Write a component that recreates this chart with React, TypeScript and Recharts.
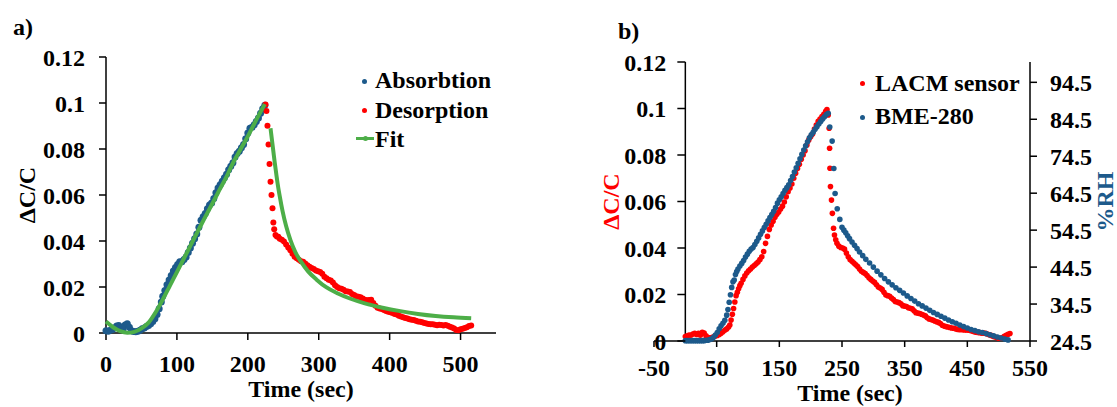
import React from "react";
import { ComposedChart, Scatter, Line, XAxis, YAxis, ReferenceLine, Label } from "recharts";

const FONT = "'Liberation Serif', 'Times New Roman', serif";
const FS = 24;
const BLUE = "#1d5a8b";
const RED = "#ff0000";
const GREEN = "#4dae48";

const timeTicksA = [0, 100, 200, 300, 400, 500];
const timeTicksB = [-50, 50, 150, 250, 350, 450, 550];
const dcTicks = [0, 0.02, 0.04, 0.06, 0.08, 0.1, 0.12];
const rhTicks = [24.5, 34.5, 44.5, 54.5, 64.5, 74.5, 84.5, 94.5];

// panel a) — [time, ΔC/C]
const absorbtion: [number, number][] = [
  [0, 0.001], [3, 0.0008], [6, 0.0012], [9, 0.0015], [12, 0.0022], [15, 0.003], [18, 0.0033],
  [21, 0.0022], [24, 0.0015], [27, 0.0035], [30, 0.004], [33, 0.0025], [36, 0.001], [39, 0.0006],
  [42, 0.0005], [45, 0.0008], [48, 0.0012], [51, 0.0018], [54, 0.0022], [57, 0.0028], [60, 0.0033],
  [63, 0.004], [66, 0.005], [69, 0.0062], [72, 0.008], [75, 0.0105], [78, 0.0135], [80, 0.016],
  [83, 0.0185], [86, 0.021], [89, 0.023], [92, 0.025], [95, 0.027], [98, 0.0285], [101, 0.0298],
  [104, 0.031], [107, 0.031], [110, 0.032], [113, 0.033], [116, 0.035], [119, 0.037], [122, 0.039],
  [125, 0.041], [128, 0.043], [131, 0.046], [134, 0.049], [137, 0.0505], [140, 0.052], [143, 0.054],
  [146, 0.0557], [149, 0.0565], [152, 0.0585], [155, 0.061], [158, 0.063], [161, 0.0645], [164, 0.066],
  [167, 0.0675], [170, 0.069], [173, 0.071], [176, 0.0725], [179, 0.074], [182, 0.0765], [185, 0.078],
  [188, 0.079], [191, 0.0805], [194, 0.082], [197, 0.0845], [200, 0.087], [203, 0.089], [206, 0.0895],
  [209, 0.0905], [212, 0.092], [215, 0.0935], [218, 0.0955], [221, 0.0975], [224, 0.099],
];

const desorption: [number, number][] = [
  [225, 0.0994], [226.3, 0.0965], [227.7, 0.0901], [229.2, 0.082], [230.6, 0.0735], [232, 0.0658],
  [233.4, 0.06], [234.8, 0.0542], [236, 0.048], [237.2, 0.0451], [239, 0.0426], [241, 0.042],
  [243, 0.0418], [245, 0.041], [248, 0.0405], [251, 0.0398], [254, 0.0385], [257, 0.0372], [260, 0.036],
  [263, 0.0345], [266, 0.0332], [269, 0.0325], [272, 0.0318], [275, 0.0312], [278, 0.031], [281, 0.0302],
  [284, 0.0295], [287, 0.0288], [290, 0.0283], [293, 0.0278], [296, 0.0272], [299, 0.0268], [302, 0.0265],
  [305, 0.0258], [308, 0.0245], [311, 0.0238], [314, 0.0232], [317, 0.0228], [320, 0.022], [323, 0.0208],
  [326, 0.02], [329, 0.0195], [332, 0.0192], [335, 0.0188], [338, 0.0182], [341, 0.018], [344, 0.0178],
  [347, 0.017], [350, 0.0165], [353, 0.016], [356, 0.0158], [359, 0.0155], [362, 0.015], [365, 0.0145],
  [368, 0.0142], [371, 0.0143], [374, 0.0145], [377, 0.013], [380, 0.0118], [383, 0.011], [386, 0.0107],
  [389, 0.0104], [392, 0.01], [395, 0.0096], [398, 0.0092], [401, 0.009], [404, 0.0087], [407, 0.0083],
  [410, 0.008], [413, 0.0075], [416, 0.0072], [419, 0.0068], [422, 0.0065], [425, 0.0063], [428, 0.006],
  [431, 0.0058], [434, 0.0056], [437, 0.0053], [440, 0.005], [443, 0.0049], [446, 0.0047], [449, 0.0044],
  [452, 0.0041], [455, 0.0039], [458, 0.0038], [461, 0.0038], [464, 0.0036], [467, 0.0034], [470, 0.0036],
  [473, 0.0035], [476, 0.0033], [479, 0.0035], [482, 0.0031], [485, 0.0027], [488, 0.0024], [491, 0.002],
  [494, 0.0013], [497, 0.0012], [500, 0.0016], [503, 0.0019], [506, 0.0022], [509, 0.0025], [512, 0.003],
  [515, 0.0033],
];

const fitRise: [number, number][] = [
  [0, 0.005], [10, 0.0025], [20, 0.0008], [30, 0.0001], [40, 0.0005], [50, 0.002], [60, 0.0045],
  [70, 0.009], [80, 0.0145], [90, 0.0205], [100, 0.0265], [110, 0.0325], [120, 0.0385], [130, 0.0445],
  [140, 0.0505], [150, 0.0563], [160, 0.0622], [170, 0.068], [180, 0.0745], [190, 0.08], [200, 0.0855],
  [210, 0.0915], [224, 0.0995],
];

const fitDecay: [number, number][] = [
  [232, 0.089], [234, 0.084], [236, 0.079], [238, 0.074], [240, 0.0695], [242, 0.065], [245, 0.0595],
  [249, 0.053], [254, 0.0465], [260, 0.0405], [267, 0.0352], [275, 0.031], [285, 0.0268], [297, 0.0232],
  [311, 0.0198], [327, 0.0172], [344, 0.015], [365, 0.0129], [390, 0.011], [415, 0.0095], [440, 0.0083],
  [465, 0.0074], [490, 0.0068], [515, 0.0064],
];

// panel b) — LACM sensor [time, ΔC/C], BME-280 [time, %RH]
const lacm: [number, number][] = [
  [0, 0.0019], [3, 0.0022], [6, 0.0026], [9, 0.0025], [12, 0.003], [15, 0.0033], [18, 0.0028],
  [21, 0.0033], [24, 0.0025], [27, 0.0037], [30, 0.0034], [33, 0.0022], [36, 0.0015], [39, 0.0014],
  [42, 0.0015], [45, 0.0018], [48, 0.0022], [51, 0.0024], [54, 0.0028], [57, 0.0033], [60, 0.004],
  [63, 0.0046], [66, 0.0052], [69, 0.006], [71, 0.0069], [73, 0.009], [75, 0.0115], [77, 0.014],
  [79, 0.0168], [81, 0.0195], [83, 0.021], [85, 0.0225], [87, 0.0238], [89, 0.0248], [92, 0.0265],
  [95, 0.028], [98, 0.0292], [101, 0.0302], [104, 0.031], [107, 0.0318], [110, 0.0325], [113, 0.0332],
  [116, 0.034], [119, 0.035], [122, 0.0362], [125, 0.0385], [128, 0.042], [131, 0.045], [134, 0.048],
  [137, 0.0499], [140, 0.0515], [143, 0.0532], [146, 0.0545], [149, 0.0555], [152, 0.0568], [155, 0.058],
  [158, 0.0598], [161, 0.062], [164, 0.0642], [167, 0.0658], [170, 0.0675], [173, 0.07], [176, 0.0722],
  [179, 0.0742], [182, 0.076], [185, 0.0782], [188, 0.08], [191, 0.0818], [194, 0.0843], [197, 0.0865],
  [200, 0.0878], [203, 0.089], [206, 0.0912], [209, 0.0929], [212, 0.0945], [215, 0.0955], [218, 0.0965],
  [221, 0.0975], [224, 0.0988], [226, 0.0995], [228, 0.0972], [229.5, 0.0915], [230.2, 0.0829],
  [230.8, 0.0743], [231.6, 0.0664], [233.2, 0.0606], [234.6, 0.0549], [236.5, 0.0485], [238, 0.0456],
  [240, 0.0435], [242, 0.042], [245, 0.0408], [248, 0.0402], [251, 0.04], [254, 0.0395], [257, 0.0378],
  [260, 0.0362], [263, 0.035], [266, 0.0343], [269, 0.0335], [272, 0.0328], [275, 0.032], [278, 0.031],
  [281, 0.03], [284, 0.0295], [287, 0.029], [290, 0.0282], [293, 0.0272], [296, 0.0265], [299, 0.0258],
  [302, 0.0252], [305, 0.0242], [308, 0.0232], [311, 0.0228], [314, 0.0222], [317, 0.021], [320, 0.0198],
  [323, 0.0195], [326, 0.0192], [329, 0.0185], [332, 0.0178], [335, 0.017], [338, 0.0168], [341, 0.0165],
  [344, 0.016], [347, 0.0152], [350, 0.015], [353, 0.0148], [356, 0.0143], [359, 0.0141], [362, 0.0138],
  [365, 0.013], [368, 0.0122], [371, 0.012], [374, 0.0118], [377, 0.0115], [380, 0.0112], [383, 0.0108],
  [386, 0.01], [389, 0.0095], [392, 0.0092], [395, 0.009], [398, 0.0086], [401, 0.0083], [404, 0.008],
  [407, 0.0075], [410, 0.0068], [413, 0.0064], [416, 0.0062], [419, 0.006], [422, 0.0058], [425, 0.0056],
  [428, 0.0055], [431, 0.0053], [434, 0.005], [437, 0.0049], [440, 0.0049], [443, 0.0048], [446, 0.0047],
  [449, 0.0047], [452, 0.0046], [455, 0.0045], [458, 0.0042], [461, 0.004], [464, 0.0038], [467, 0.0037],
  [470, 0.0036], [473, 0.0034], [476, 0.0034], [479, 0.0033], [482, 0.003], [485, 0.0027], [488, 0.0024],
  [491, 0.002], [494, 0.0017], [497, 0.0015], [500, 0.0012], [503, 0.0013], [506, 0.0015], [509, 0.002],
  [512, 0.0025], [515, 0.0029], [518, 0.0032],
];

const bme: [number, number][] = [
  [0, 24.6], [3, 24.6], [6, 24.6], [9, 24.6], [12, 24.6], [15, 24.6], [18, 24.6], [21, 24.6], [24, 24.6],
  [27, 24.6], [30, 24.6], [33, 24.7], [36, 24.7], [39, 24.9], [42, 25.1], [45, 25.5], [48, 26.1],
  [51, 26.8], [54, 27.8], [57, 28.6], [60, 29.3], [63, 30.1], [66, 31.5], [68, 33.0], [70, 35.0],
  [72, 37.0], [74, 39.0], [76, 40.5], [78, 41.0], [80, 42.5], [82, 43.3], [84, 44.0], [87, 44.8],
  [90, 45.5], [93, 46.3], [96, 47.2], [99, 48.0], [102, 48.8], [105, 49.4], [108, 49.8], [111, 50.6],
  [114, 51.5], [117, 52.4], [120, 53.4], [123, 54.3], [126, 55.2], [129, 56.1], [132, 57.0], [135, 57.9],
  [138, 58.7], [141, 59.6], [144, 60.6], [147, 61.8], [150, 62.7], [153, 63.5], [156, 64.4], [159, 65.3],
  [162, 66.0], [165, 66.8], [168, 67.9], [171, 69.0], [174, 70.2], [177, 71.4], [180, 72.6], [183, 73.8],
  [186, 75.0], [189, 76.2], [192, 77.3], [195, 78.4], [198, 79.5], [201, 80.3], [204, 81.0], [207, 81.8],
  [210, 82.5], [213, 83.2], [216, 83.9], [219, 84.6], [222, 85.2], [225, 85.8], [228, 86.1],
  [230.5, 82.4], [234.3, 78.6], [237, 71.2], [239, 64.4], [242.4, 60.3], [246.5, 57.4], [250, 55.3],
  [253, 54.5], [256, 53.8], [259, 53.0], [262, 52.2], [266, 51.3], [270, 50.4], [274, 49.5], [278, 48.6],
  [283, 47.6], [288, 46.6], [294, 45.6], [300, 44.5], [306, 43.4], [312, 42.4], [318, 41.4], [324, 40.5],
  [330, 39.7], [336, 38.9], [342, 38.2], [348, 37.5], [354, 36.7], [360, 36.0], [366, 35.3], [372, 34.6],
  [378, 34.0], [384, 33.4], [390, 32.8], [396, 32.2], [402, 31.7], [408, 31.2], [414, 30.7], [420, 30.2],
  [426, 29.7], [432, 29.3], [438, 28.8], [444, 28.4], [450, 28.0], [456, 27.6], [462, 27.3], [468, 27.0],
  [474, 26.8], [480, 26.5], [486, 26.2], [492, 25.9], [498, 25.6], [504, 25.3], [510, 25.0], [515, 24.8],
];

const rows = (pairs: [number, number][]) => pairs.map(([t, v]) => ({ t, v }));

const tickFont = { fontFamily: FONT, fontWeight: 700, fontSize: FS, fill: "#000" };

const dot = (fill: string, r: number) => (p: any) =>
  <circle cx={p.cx} cy={p.cy} r={r} fill={fill} />;

function SideTitle({ viewBox, value, shiftX, color }: any) {
  if (!viewBox) return null;
  const x = viewBox.x + shiftX;
  const y = viewBox.y + viewBox.height / 2;
  return (
    <text x={x} y={y} transform={`rotate(-90 ${x} ${y})`} textAnchor="middle" dominantBaseline="central"
      style={{ fontFamily: FONT, fontWeight: 700, fontSize: FS }} fill={color}>
      {value}
    </text>
  );
}

function BottomTitle({ viewBox, value, shiftX = 0, baseY }: any) {
  if (!viewBox) return null;
  return (
    <text x={viewBox.x + viewBox.width / 2 + shiftX} y={viewBox.y + baseY} textAnchor="middle"
      style={{ fontFamily: FONT, fontWeight: 700, fontSize: FS }} fill="#000">
      {value}
    </text>
  );
}

// panel b: plot spans 376px for -50..550, left axis sits at t = 0
const B_PLOT_W = 376;
const ZERO_SHIFT = (B_PLOT_W * 50) / 600;

function ZeroAxisTick({ x, y, payload }: any) {
  const ax = x + ZERO_SHIFT;
  return (
    <g>
      <line x1={ax - 8} x2={ax} y1={y} y2={y} stroke="#000" strokeWidth={1.5} />
      <text x={ax - 19} y={y} dy="0.355em" textAnchor="end" {...tickFont}>{payload.value}</text>
    </g>
  );
}

const legendText: React.CSSProperties = {
  position: "absolute", fontFamily: FONT, fontWeight: 700, fontSize: FS, lineHeight: "24px", whiteSpace: "nowrap",
};

function LegendDot({ x, y, color }: { x: number; y: number; color: string }) {
  return <div style={{ position: "absolute", left: x - 2.5, top: y - 2.5, width: 5, height: 5, borderRadius: 3, background: color }} />;
}

const marginA = { top: 57, right: 64, bottom: 10, left: 0 };

export default function App() {
  return (
    <div style={{ position: "absolute", left: 0, top: 0, width: 1117, height: 407, background: "#fff" }}>
      <div style={{ ...legendText, left: 13, top: 15 }}>a)</div>
      <div style={{ ...legendText, left: 618, top: 19 }}>b)</div>

      <div style={{ position: "absolute", left: 0, top: 0 }}>
        <ComposedChart width={560} height={407} margin={marginA}>
          <XAxis dataKey="t" type="number" domain={[0, 550]} ticks={timeTicksA} interval={0}
            stroke="#000" strokeWidth={1.5} tickSize={7} tickMargin={15} tick={tickFont} height={64}>
            <Label content={<BottomTitle baseY={64} />} value="Time (sec)" />
          </XAxis>
          <YAxis type="number" domain={[0, 0.12]} ticks={dcTicks} interval={0} width={106}
            stroke="#000" strokeWidth={1.5} tickSize={7} tickMargin={14} tick={tickFont}>
            <Label content={<SideTitle shiftX={27} color="#000" />} value="ΔC/C" />
          </YAxis>
          <Scatter data={rows(absorbtion)} dataKey="v" shape={dot(BLUE, 3.5)} isAnimationActive={false} />
          <Scatter data={rows(desorption)} dataKey="v" shape={dot(RED, 3)} isAnimationActive={false} />
        </ComposedChart>
      </div>

      {/* Fit curve: same axes in a transparent chart on top, so it sits above the dots */}
      <div style={{ position: "absolute", left: 0, top: 0, pointerEvents: "none" }}>
        <ComposedChart width={560} height={407} margin={marginA}>
          <XAxis dataKey="t" type="number" domain={[0, 550]} ticks={timeTicksA} height={64}
            axisLine={false} tickLine={false} tick={false} />
          <YAxis type="number" domain={[0, 0.12]} ticks={dcTicks} width={106}
            axisLine={false} tickLine={false} tick={false} />
          <Line data={rows(fitRise)} dataKey="v" type="monotone" stroke={GREEN} strokeWidth={4} dot={false} isAnimationActive={false} />
          <Line data={rows(fitDecay)} dataKey="v" type="monotone" stroke={GREEN} strokeWidth={4} dot={false} isAnimationActive={false} />
        </ComposedChart>
      </div>

      <LegendDot x={364} y={81} color={BLUE} />
      <LegendDot x={364} y={110} color={RED} />
      <div style={{ position: "absolute", left: 356, top: 137, width: 18, height: 3, background: GREEN }} />
      <LegendDot x={365} y={138.5} color={GREEN} />
      <div style={{ ...legendText, left: 375, top: 68 }}>Absorbtion</div>
      <div style={{ ...legendText, left: 375, top: 97.5 }}>Desorption</div>
      <div style={{ ...legendText, left: 375, top: 127 }}>Fit</div>

      <div style={{ position: "absolute", left: 560, top: 0 }}>
        <ComposedChart width={557} height={407} margin={{ top: 62, right: 0, bottom: 6, left: 0 }}>
          <XAxis dataKey="t" type="number" domain={[-50, 550]} ticks={timeTicksB} interval={0}
            stroke="#000" strokeWidth={1.5} tickSize={6} tickMargin={12} tick={tickFont} height={60}>
            <Label content={<BottomTitle baseY={60} shiftX={8} />} value="Time (sec)" />
          </XAxis>
          <YAxis yAxisId="dc" type="number" domain={[0, 0.12]} ticks={dcTicks} interval={0} width={94}
            axisLine={false} tickLine={false} tickSize={0} tickMargin={0} tick={<ZeroAxisTick />}>
            <Label content={<SideTitle shiftX={51} color={RED} />} value="ΔC/C" />
          </YAxis>
          <YAxis yAxisId="rh" orientation="right" type="number" domain={[24.5, 100]} ticks={rhTicks} interval={0}
            width={87} stroke="#000" strokeWidth={1.5} tickSize={7} tickMargin={13} tick={tickFont}>
            <Label content={<SideTitle shiftX={75} color={BLUE} />} value="%RH" />
          </YAxis>
          <ReferenceLine yAxisId="dc" x={0} stroke="#000" strokeWidth={1.5} />
          <Scatter yAxisId="dc" data={rows(lacm)} dataKey="v" shape={dot(RED, 2.8)} isAnimationActive={false} />
          <Scatter yAxisId="rh" data={rows(bme)} dataKey="v" shape={dot(BLUE, 2.8)} isAnimationActive={false} />
        </ComposedChart>
      </div>

      <LegendDot x={862} y={83} color={RED} />
      <LegendDot x={862} y={117} color={BLUE} />
      <div style={{ ...legendText, left: 875, top: 71 }}>LACM sensor</div>
      <div style={{ ...legendText, left: 875, top: 104 }}>BME-280</div>
    </div>
  );
}
